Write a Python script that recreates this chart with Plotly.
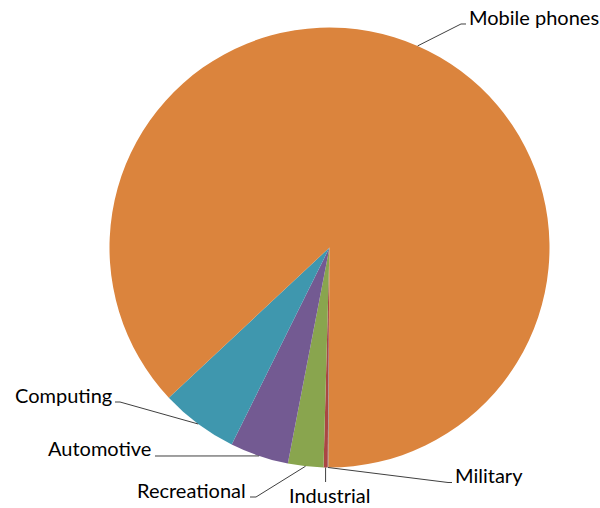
import math
import plotly.graph_objects as go

# ---- data ----
categories = ["Military", "Industrial", "Recreational", "Automotive", "Computing", "Mobile phones"]
values = [0.05, 0.3, 2.6, 4.3, 5.7, 87.05]
colors = ["#4572A7", "#AA4643", "#89A54E", "#735A92", "#3F97AE", "#DB843D"]

# ---- layout constants ----
W, H = 600, 508
CX, CY, R = 329.5, 247.5, 220.0
ROTATION = 180.3  # start angle of first slice (deg, clockwise from 12 o'clock)

# label placement: (elbow points..., text x, text y, anchor)
label_layout = {
    "Mobile phones": dict(path=[(461, 24), (466, 24)], tx=467, ty=17, xanchor="left"),
    "Computing": dict(path=[(120, 402), (115, 402)], tx=114, ty=395, xanchor="right"),
    "Automotive": dict(path=[(155, 456)], tx=153, ty=448, xanchor="right"),
    "Recreational": dict(path=[(256, 497), (250, 497)], tx=248, ty=490, xanchor="right"),
    "Industrial": dict(path=[(None, 482)], tx=330, ty=495, xanchor="center"),
    "Military": dict(path=[(448, 482.5), (452, 482.5)], tx=453, ty=475, xanchor="left"),
}

fig = go.Figure()
fig.add_trace(go.Pie(
    labels=categories,
    values=values,
    sort=False,
    direction="clockwise",
    rotation=ROTATION,
    textinfo="none",
    hoverinfo="label+percent",
    marker=dict(colors=colors, line=dict(width=0)),
    showlegend=False,
    domain=dict(x=[(CX - R) / W, (CX + R) / W], y=[1 - (CY + R) / H, 1 - (CY - R) / H]),
))

def px(x):
    return x / W

def py(y):
    return 1 - y / H

total = sum(values)
cum = 0.0
shapes = []
annotations = []
for cat, v in zip(categories, values):
    mid = ROTATION + (cum + v / 2) / total * 360.0
    cum += v
    a = math.radians(mid)
    sx = CX + R * math.sin(a)
    sy = CY - R * math.cos(a)
    spec = label_layout[cat]
    pts = [(sx, sy)]
    for (x, y) in spec["path"]:
        pts.append((sx if x is None else x, y))
    path = "M " + " L ".join(f"{px(x):.5f},{py(y):.5f}" for x, y in pts)
    shapes.append(dict(type="path", xref="paper", yref="paper", path=path,
                       line=dict(color="#404040", width=1)))
    annotations.append(dict(x=px(spec["tx"]), y=py(spec["ty"]), xref="paper", yref="paper",
                            text=cat, showarrow=False, xanchor=spec["xanchor"], yanchor="middle",
                            font=dict(family="Lato, Open Sans, sans-serif", size=20, color="#000000")))

fig.update_layout(
    width=W, height=H,
    margin=dict(l=0, r=0, t=0, b=0),
    paper_bgcolor="white",
    plot_bgcolor="white",
    shapes=shapes,
    annotations=annotations,
)

fig.write_html("out.html")
